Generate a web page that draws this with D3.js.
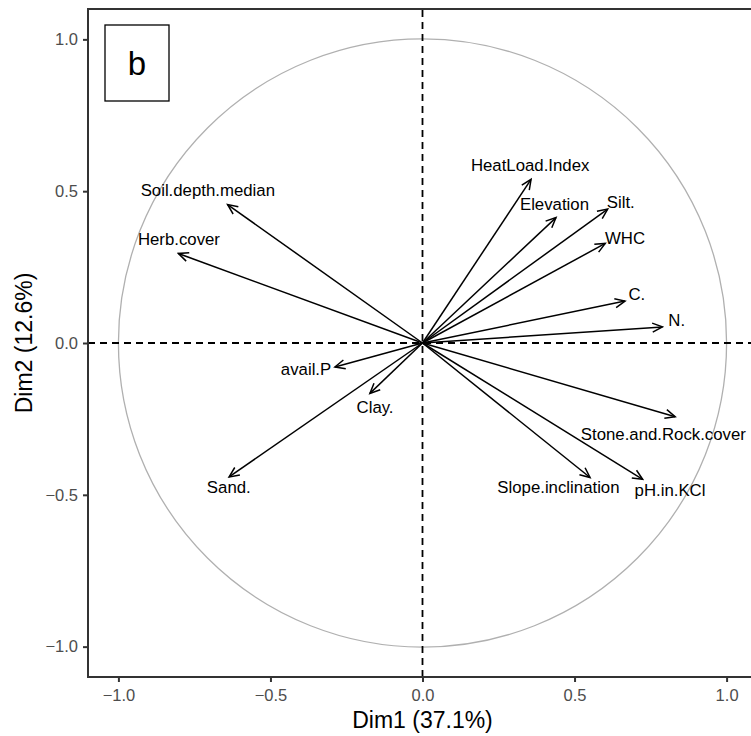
<!DOCTYPE html>
<html>
<head>
<meta charset="utf-8">
<script src="https://cdn.jsdelivr.net/npm/d3@7"></script>
<style>
  body { margin: 0; background: #fff; }
  svg { display: block; font-family: "Liberation Sans", Arial, Helvetica, sans-serif; }
</style>
</head>
<body>
<svg id="chart"></svg>
<script>
// variable loadings on Dim1 / Dim2
const variables = ["HeatLoad.Index", "Elevation", "Silt.", "WHC", "C.", "N.",
    "Stone.and.Rock.cover", "Slope.inclination", "pH.in.KCl",
    "Soil.depth.median", "Herb.cover", "avail.P", "Clay.", "Sand."];
const dim1 = [0.357, 0.439, 0.609, 0.601, 0.666, 0.789, 0.831, 0.551, 0.724, -0.641, -0.803, -0.288, -0.173, -0.636];
const dim2 = [0.539, 0.413, 0.441, 0.328, 0.138, 0.053, -0.243, -0.443, -0.449, 0.456, 0.295, -0.079, -0.166, -0.441];
// where the (repelled) labels sit, in the same units
const labelDim1 = [0.354, 0.434, 0.652, 0.666, 0.705, 0.836, 0.792, 0.447, 0.814, -0.706, -0.801, -0.383, -0.156, -0.637];
const labelDim2 = [0.586, 0.459, 0.465, 0.347, 0.160, 0.075, -0.298, -0.474, -0.485, 0.505, 0.342, -0.084, -0.212, -0.474];
const ticks = [-1.0, -0.5, 0.0, 0.5, 1.0];
const xTitle = "Dim1 (37.1%)";
const yTitle = "Dim2 (12.6%)";
const panelTag = "b";

const W = 751, H = 736;
const margin = { top: 9, left: 88 };
const plotW = 669, plotH = 668;

const svg = d3.select("#chart").attr("width", W).attr("height", H);

const x = d3.scaleLinear().domain([-1.1, 1.1]).range([margin.left, margin.left + plotW]);
const y = d3.scaleLinear().domain([-1.1, 1.1]).range([margin.top + plotH, margin.top]);

svg.append("defs").append("marker")
    .attr("id", "arrow")
    .attr("markerUnits", "userSpaceOnUse")
    .attr("viewBox", "-12 -6 14 12")
    .attr("refX", 0).attr("refY", 0)
    .attr("markerWidth", 14).attr("markerHeight", 12)
    .attr("orient", "auto")
    .append("path")
    .attr("d", "M-10,-4.5L0,0L-10,4.5")
    .attr("fill", "none")
    .attr("stroke", "#000")
    .attr("stroke-width", 1.5);

const plot = svg.append("g");

// correlation circle
plot.append("circle")
    .attr("cx", x(0)).attr("cy", y(0))
    .attr("r", x(1) - x(0))
    .attr("fill", "none")
    .attr("stroke", "#b0b0b0")
    .attr("stroke-width", 1.3);

// reference lines
plot.append("line")
    .attr("x1", x(-1.1)).attr("x2", x(1.1))
    .attr("y1", y(0)).attr("y2", y(0))
    .attr("stroke", "#000").attr("stroke-width", 1.8)
    .attr("stroke-dasharray", "7,5");
plot.append("line")
    .attr("x1", x(0)).attr("x2", x(0))
    .attr("y1", y(-1.1)).attr("y2", y(1.1))
    .attr("stroke", "#000").attr("stroke-width", 1.8)
    .attr("stroke-dasharray", "7,5");

const data = variables.map((v, i) => ({ name: v, x: dim1[i], y: dim2[i], lx: labelDim1[i], ly: labelDim2[i] }));

plot.selectAll("line.arrow").data(data)
    .join("line")
    .attr("class", "arrow")
    .attr("x1", x(0)).attr("y1", y(0))
    .attr("x2", d => x(d.x)).attr("y2", d => y(d.y))
    .attr("stroke", "#000")
    .attr("stroke-width", 1.5)
    .attr("marker-end", "url(#arrow)");

plot.selectAll("text.lab").data(data)
    .join("text")
    .attr("class", "lab")
    .attr("x", d => x(d.lx))
    .attr("y", d => y(d.ly))
    .attr("dy", "0.36em")
    .attr("text-anchor", "middle")
    .attr("font-size", 16.8)
    .attr("fill", "#000")
    .text(d => d.name);

// panel border
svg.append("rect")
    .attr("x", margin.left).attr("y", margin.top)
    .attr("width", plotW).attr("height", plotH)
    .attr("fill", "none")
    .attr("stroke", "#333")
    .attr("stroke-width", 2);

// axes
const fmt = d3.format(".1f");
const xAxis = svg.append("g")
    .attr("transform", `translate(0, ${margin.top + plotH})`)
    .call(d3.axisBottom(x).tickValues(ticks).tickFormat(fmt).tickSize(5).tickPadding(7));
const yAxis = svg.append("g")
    .attr("transform", `translate(${margin.left}, 0)`)
    .call(d3.axisLeft(y).tickValues(ticks).tickFormat(fmt).tickSize(5).tickPadding(5));

[xAxis, yAxis].forEach(a => {
    a.select(".domain").remove();
    a.selectAll(".tick line").attr("stroke", "#333").attr("stroke-width", 2);
    a.selectAll(".tick text")
        .attr("fill", "#4d4d4d")
        .attr("font-size", 16.5)
        .attr("font-family", "'Liberation Sans', Arial, sans-serif");
});

svg.append("text")
    .attr("x", x(0))
    .attr("y", 728)
    .attr("text-anchor", "middle")
    .attr("font-size", 23)
    .text(xTitle);

svg.append("text")
    .attr("transform", `translate(32, ${y(0)}) rotate(-90)`)
    .attr("text-anchor", "middle")
    .attr("font-size", 23)
    .text(yTitle);

// panel tag
svg.append("rect")
    .attr("x", 105).attr("y", 25)
    .attr("width", 64).attr("height", 76)
    .attr("fill", "#fff")
    .attr("stroke", "#000")
    .attr("stroke-width", 1.3);
svg.append("text")
    .attr("x", 137).attr("y", 63)
    .attr("dy", "0.36em")
    .attr("text-anchor", "middle")
    .attr("font-size", 33)
    .text(panelTag);
</script>
</body>
</html>
